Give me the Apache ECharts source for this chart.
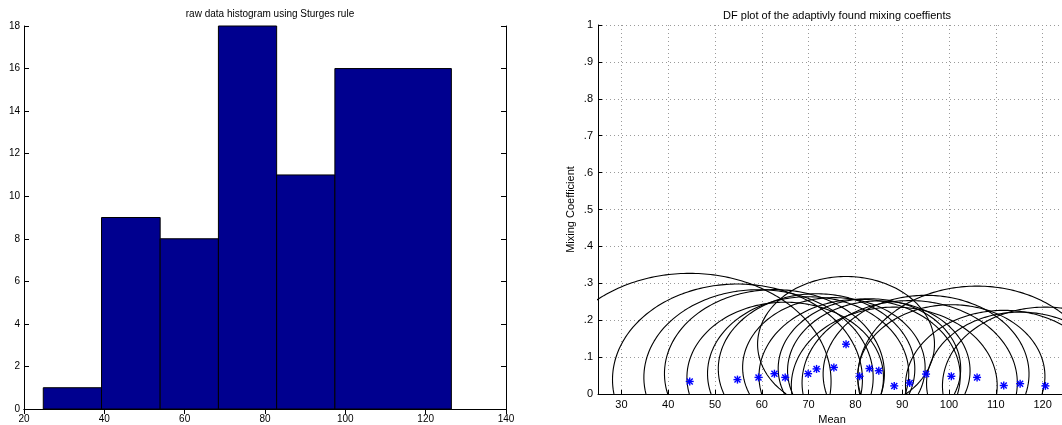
<!DOCTYPE html>
<html>
<head>
<meta charset="utf-8">
<script src="https://cdn.jsdelivr.net/npm/echarts@6/dist/echarts.min.js"></script>
<style>
  html, body { margin: 0; padding: 0; background: #fff; }
  #chart { width: 1062px; height: 425px; }
</style>
</head>
<body>
<div id="chart"></div>
<script>
// ---- Raw data histogram (Sturges rule) ----
const binEdges = [24.8, 39.3, 53.9, 68.4, 82.9, 97.4, 126.4];
const binCounts = [1, 9, 8, 18, 11, 16];
const histXTicks = [20, 40, 60, 80, 100, 120, 140];
const histYTicks = [0, 2, 4, 6, 8, 10, 12, 14, 16, 18];

// ---- Mixture components found adaptively ----
const compMeans = [44.6, 54.8, 59.3, 62.7, 65.0, 69.9, 71.7, 75.4, 78.0, 80.9,
                   83.0, 85.0, 88.3, 91.6, 95.1, 100.5, 106.0, 111.7, 115.2, 120.6];
const compCoefs = [0.034, 0.039, 0.045, 0.055, 0.045, 0.055, 0.068, 0.072, 0.135, 0.048,
                   0.069, 0.063, 0.022, 0.030, 0.054, 0.048, 0.045, 0.023, 0.028, 0.022];
const compRadii = [30.2, 26.7, 24.5, 23.5, 21.0, 21.5, 21.0, 19.5, 18.9, 21.5,
                   19.5, 19.5, 22.0, 23.0, 22.0, 20.0, 25.5, 21.0, 20.0, 22.0];
const coefPerMean = 0.0097;   // vertical size of a spread circle per unit of mean
const dfXTicks = [30, 40, 50, 60, 70, 80, 90, 100, 110, 120];
const dfYTicks = [0, 0.1, 0.2, 0.3, 0.4, 0.5, 0.6, 0.7, 0.8, 0.9, 1];

const FONT = '"Liberation Sans", Arial, Helvetica, sans-serif';
const chart = echarts.init(document.getElementById('chart'), null, { renderer: 'canvas' });

// upper part (y >= 0) of the spread ellipse around each component
function spreadCurve(m, c, r) {
  const ry = r * coefPerMean;
  const t0 = -Math.asin(Math.min(1, c / ry));
  const t1 = Math.PI - t0;
  const pts = [];
  const n = 160;
  for (let i = 0; i <= n; i++) {
    const t = t0 + (t1 - t0) * i / n;
    pts.push([m + r * Math.cos(t), Math.max(0, c + ry * Math.sin(t))]);
  }
  return pts;
}

const ellipseSeries = compMeans.map((m, i) => ({
  type: 'line',
  xAxisIndex: 2, yAxisIndex: 2,
  data: spreadCurve(m, compCoefs[i], compRadii[i]),
  showSymbol: false, symbol: 'none', smooth: false, silent: true,
  clip: true, z: 3,
  lineStyle: { color: '#000', width: 1.1 }
}));

const axisBlack = { lineStyle: { color: '#000', width: 1 } };
const labelStyle = (size) => ({ color: '#000', fontSize: size, fontFamily: FONT });

const option = {
  animation: false,
  backgroundColor: '#fff',
  title: [
    { text: 'raw data histogram using Sturges rule', left: 265, top: 4, textAlign: 'center',
      textStyle: { fontSize: 10, fontWeight: 'normal', color: '#000', fontFamily: FONT } },
    { text: 'DF plot of the adaptivly found mixing coeffients', left: 832, top: 5, textAlign: 'center',
      textStyle: { fontSize: 11, fontWeight: 'normal', color: '#000', fontFamily: FONT } }
  ],
  grid: [
    { left: 24, top: 26, width: 482, height: 383, containLabel: false, outerBoundsMode: 'none' },
    { left: 598, top: 25, width: 468, height: 369, containLabel: false, outerBoundsMode: 'none' }
  ],
  xAxis: [
    { type: 'value', gridIndex: 0, min: histXTicks[0], max: histXTicks[histXTicks.length - 1],
      interval: 20, position: 'bottom',
      axisLine: axisBlack, axisTick: { inside: true, length: 5, lineStyle: { color: '#000' } },
      axisLabel: Object.assign({ margin: 5 }, labelStyle(10)), splitLine: { show: false } },
    { type: 'value', gridIndex: 0, min: histXTicks[0], max: histXTicks[histXTicks.length - 1],
      interval: 20, position: 'top',
      axisLine: axisBlack, axisTick: { inside: true, length: 5, lineStyle: { color: '#000' } },
      axisLabel: { show: false }, splitLine: { show: false } },
    { type: 'value', gridIndex: 1, min: 25, max: 125, position: 'bottom',
      name: 'Mean', nameLocation: 'middle', nameGap: 16,
      nameTextStyle: labelStyle(11),
      axisLine: axisBlack,
      axisTick: { inside: true, length: 4, customValues: dfXTicks, lineStyle: { color: '#000' } },
      axisLabel: Object.assign({ margin: 5, customValues: dfXTicks }, labelStyle(11)),
      splitLine: { show: true, lineStyle: { color: '#9a9a9a', width: 1, type: [1, 3] } } }
  ],
  yAxis: [
    { type: 'value', gridIndex: 0, min: 0, max: 18, interval: 2, position: 'left',
      axisLine: axisBlack, axisTick: { inside: true, length: 5, lineStyle: { color: '#000' } },
      axisLabel: Object.assign({ margin: 4 }, labelStyle(10)), splitLine: { show: false } },
    { type: 'value', gridIndex: 0, min: 0, max: 18, interval: 2, position: 'right',
      axisLine: axisBlack, axisTick: { inside: true, length: 5, lineStyle: { color: '#000' } },
      axisLabel: { show: false }, splitLine: { show: false } },
    { type: 'value', gridIndex: 1, min: 0, max: 1, interval: 0.1, position: 'left',
      name: 'Mixing Coefficient', nameLocation: 'middle', nameGap: 22, nameRotate: 90,
      nameTextStyle: labelStyle(11),
      axisLine: axisBlack, axisTick: { inside: true, length: 4, lineStyle: { color: '#000' } },
      axisLabel: Object.assign({
        margin: 5,
        formatter: (v) => {
          const t = dfYTicks.find((d) => Math.abs(d - v) < 1e-9);
          if (t === undefined) return '';
          return (t === 0 || t === 1) ? String(t) : String(+t.toFixed(1)).replace(/^0\./, '.');
        }
      }, labelStyle(11)),
      splitLine: { show: true, lineStyle: { color: '#9a9a9a', width: 1, type: [1, 3] } } }
  ],
  series: [
    {
      type: 'custom', xAxisIndex: 0, yAxisIndex: 0, z: 2,
      data: binCounts.map((c, i) => [binEdges[i], binEdges[i + 1], c]),
      encode: { x: [0, 1], y: 2 },
      renderItem: (params, api) => {
        const p0 = api.coord([api.value(0), api.value(2)]);
        const p1 = api.coord([api.value(1), 0]);
        return {
          type: 'rect',
          shape: { x: p0[0], y: p0[1], width: p1[0] - p0[0], height: p1[1] - p0[1] },
          style: { fill: '#00008F', stroke: '#000', lineWidth: 1 }
        };
      }
    },
    ...ellipseSeries,
    {
      type: 'custom', xAxisIndex: 2, yAxisIndex: 2, z: 5,
      data: compMeans.map((m, i) => [m, compCoefs[i]]),
      encode: { x: 0, y: 1 },
      renderItem: (params, api) => {
        const p = api.coord([api.value(0), api.value(1)]);
        const s = 4, d = 3;
        const st = { stroke: '#0000FF', lineWidth: 1.4 };
        return {
          type: 'group',
          children: [
            { type: 'line', shape: { x1: p[0] - s, y1: p[1], x2: p[0] + s, y2: p[1] }, style: st },
            { type: 'line', shape: { x1: p[0], y1: p[1] - s, x2: p[0], y2: p[1] + s }, style: st },
            { type: 'line', shape: { x1: p[0] - d, y1: p[1] - d, x2: p[0] + d, y2: p[1] + d }, style: st },
            { type: 'line', shape: { x1: p[0] - d, y1: p[1] + d, x2: p[0] + d, y2: p[1] - d }, style: st }
          ]
        };
      }
    }
  ]
};
chart.setOption(option);
</script>
</body>
</html>
